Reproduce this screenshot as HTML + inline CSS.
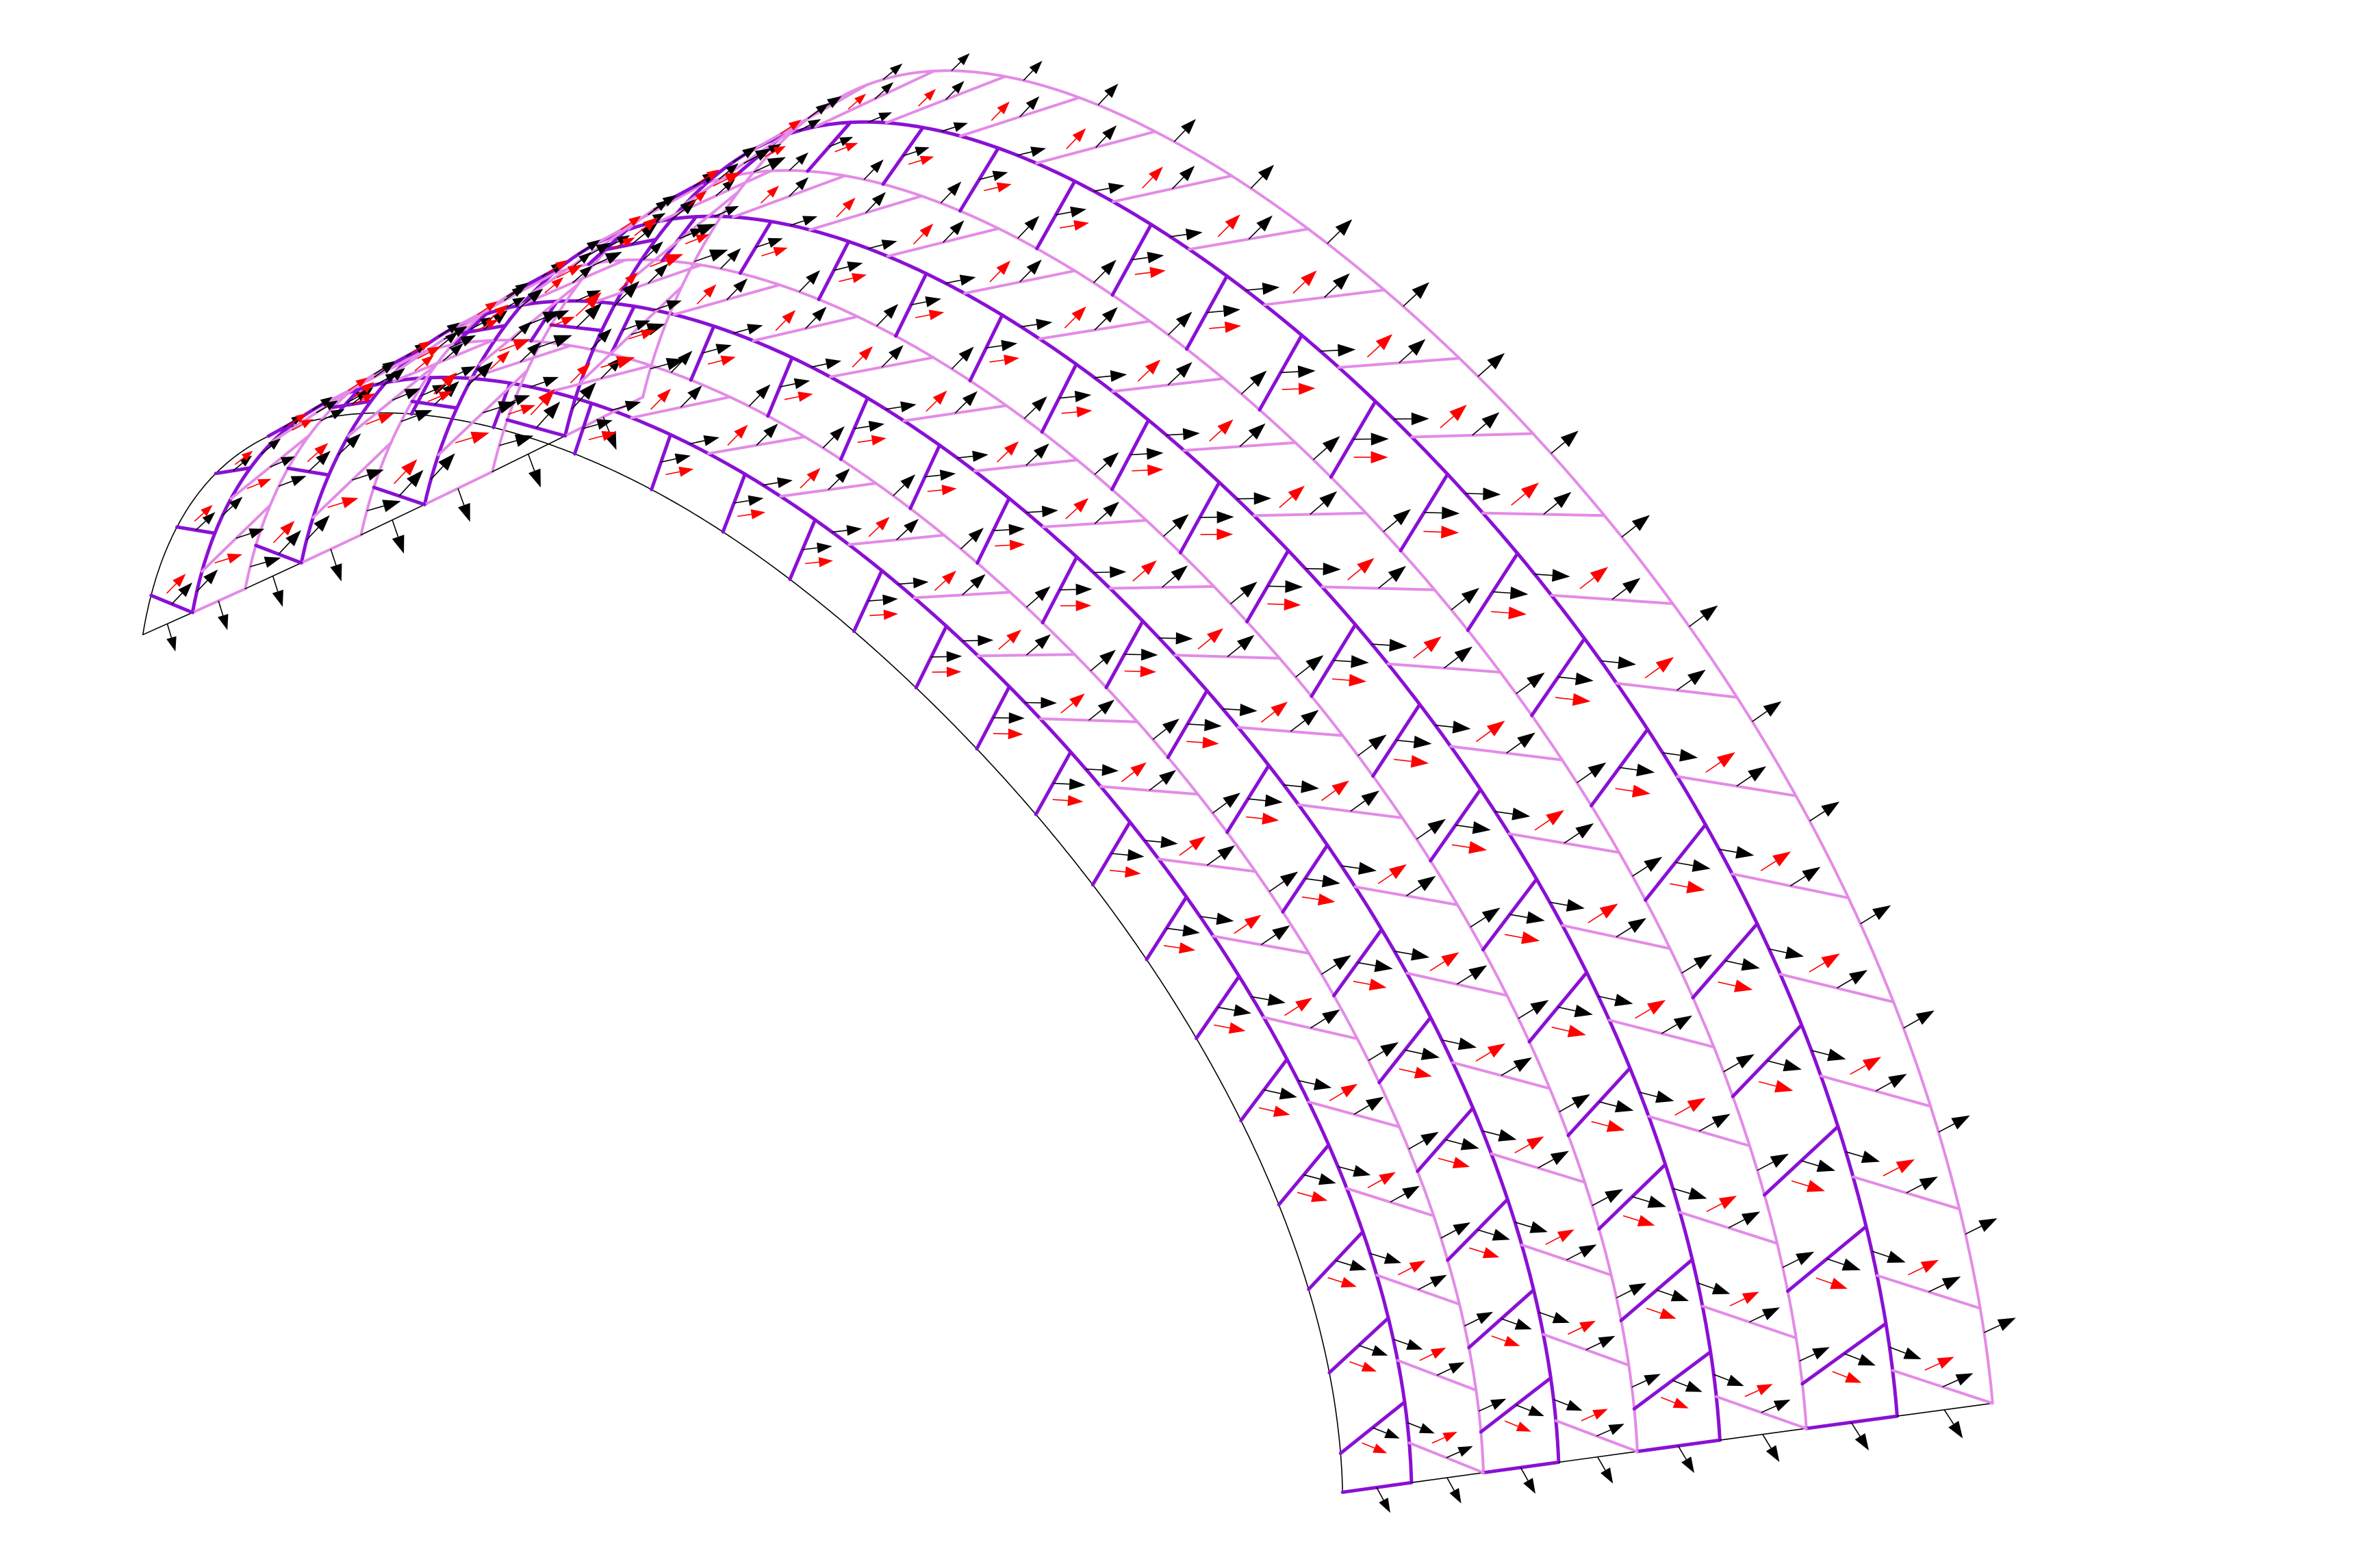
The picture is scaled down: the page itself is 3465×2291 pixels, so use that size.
<!DOCTYPE html>
<html><head><meta charset="utf-8"><title>Masonry vault</title>
<style>html,body{margin:0;padding:0;background:#fff}svg{display:block}</style></head>
<body>
<svg id="chart" xmlns="http://www.w3.org/2000/svg" width="3465" height="2291" viewBox="0 0 3465 2291">
<rect x="0" y="0" width="3465" height="2291" fill="#fff"/>
<g id="lines"></g>
<g id="arrows"></g>
</svg>
<script>
// ---- data ----
const courseCount = 8;
const bricksPerCourse = 23;
const boundaryKinds = ['edge','major','minor','major','minor','major','minor','major','minor'];
const redArrowTangentMix = [1, -0.3, 1, -0.3, 1, -0.3, 1, -0.3];
const redArrowWidthMix = [1.8, 1, 1.8, 1, 1.8, 1, 1.8, 1];
// camera calibration: near-edge rung marks (index from left), outer-edge joints (from right), end ticks
const nearEdgeRungImgX = [243,260,292,340,463,596,751,884,975,1063,1154,1241,1328,1416,1504,1589,1665,1742,1810,1872,1918,1948,1963];
const nearEdgeRungImgY = [868,769,689,629,585,585,618,686,736,794,860,931,1011,1096,1189,1287,1395,1511,1627,1756,1886,2011,2127];
const outerEdgeJointImgX = [2885,2864,2825,2773,2706,2625,2537,2441,2339,2233,2127,2019,1909,1799,1690,1584,1474,1371,1272];
const outerEdgeJointImgY = [1923,1773,1620,1462,1305,1154,1012,874,749,630,524,427,342,267,204,153,115,92,86];
const leftEndImgX = [241,325,409,493,577,661,745,829,913];
const leftEndImgY = [926,887,848,808,769,730,691,651,612];
const rightEndImgX = [1965,2081,2198,2314,2432,2548,2665,2781,2898];
const rightEndImgY = [2178,2160,2145,2129,2114,2099,2084,2069,2054];

const COLORS = {major:'#8a10d4', minor:'#e38be6', edge:'#000'};
const WIDTHS = {major:5, minor:4, edge:1.6};
const NS='http://www.w3.org/2000/svg';

// ---- calibration set in (u, y) surface coordinates ----
const calib=[];
for(let j=0;j<nearEdgeRungImgX.length;j++) calib.push([bricksPerCourse+0.5-(j+1),0,nearEdgeRungImgX[j],nearEdgeRungImgY[j],j<8?2:1]);
for(let j=0;j<outerEdgeJointImgX.length;j++) calib.push([j+1,1,outerEdgeJointImgX[j],outerEdgeJointImgY[j],j>=13?3:2]);
for(let k=0;k<=courseCount;k++){
  calib.push([bricksPerCourse,k/courseCount,leftEndImgX[k],leftEndImgY[k],3.5]);
  calib.push([0,k/courseCount,rightEndImgX[k],rightEndImgY[k],3]);
}
function world(u,y){const th=u*Math.PI/bricksPerCourse;return [Math.cos(th),y,Math.sin(th)];}

// ---- camera (weighted DLT) ----
function solveCamera(){
  const n=11, M=[];
  for(let i=0;i<n;i++){M.push(new Array(n+1).fill(0));}
  function addRow(r,b,wt){for(let i=0;i<n;i++){for(let j=0;j<n;j++)M[i][j]+=wt*r[i]*r[j];M[i][n]+=wt*r[i]*b;}}
  for(const [cu,cy,u0,v0,wt] of calib){
    const [X,Y,Z]=world(cu,cy);
    const u=u0/1000,v=v0/1000;
    addRow([X,Y,Z,1,0,0,0,0,-u*X,-u*Y,-u*Z],u,wt);
    addRow([0,0,0,0,X,Y,Z,1,-v*X,-v*Y,-v*Z],v,wt);
  }
  for(let c=0;c<n;c++){
    let p=c;for(let r=c+1;r<n;r++)if(Math.abs(M[r][c])>Math.abs(M[p][c]))p=r;
    [M[c],M[p]]=[M[p],M[c]];
    for(let r=0;r<n;r++){if(r===c)continue;const f=M[r][c]/M[c][c];for(let k=c;k<=n;k++)M[r][k]-=f*M[c][k];}
  }
  return M.map((row,i)=>row[n]/row[i]);
}
const P=solveCamera();
function proj(X,Y,Z){
  const w=P[8]*X+P[9]*Y+P[10]*Z+1;
  return [1000*(P[0]*X+P[1]*Y+P[2]*Z+P[3])/w, 1000*(P[4]*X+P[5]*Y+P[6]*Z+P[7])/w];
}
function basePt(u,y){const w=world(u,y);return proj(w[0],w[1],w[2]);}
// residual correction: smooth along each edge, blended linearly across the width
const residNear=[],residOuter=[];
for(const [cu,cy,x,yy] of calib){
  const p=basePt(cu,cy);
  if(cy===0) residNear.push([cu,x-p[0],yy-p[1]]);
  if(cy===1) residOuter.push([cu,x-p[0],yy-p[1]]);
}
function edgeCorr(list,u){
  let sx=0,sy=0,sw=0;
  for(const [cu,dx,dy] of list){const d=(u-cu)/3;const w=Math.exp(-d*d)+1e-12;sx+=w*dx;sy+=w*dy;sw+=w;}
  return [sx/sw,sy/sw];
}
function pt(u,y){
  const p=basePt(u,y),a=edgeCorr(residNear,u),b=edgeCorr(residOuter,u);
  return [p[0]+(1-y)*a[0]+y*b[0],p[1]+(1-y)*a[1]+y*b[1]];
}
function imgDir(u,y,d){
  const w=world(u,y),e=1e-3;
  const a=proj(w[0],w[1],w[2]),b=proj(w[0]+e*d[0],w[1]+e*d[1],w[2]+e*d[2]);
  const dx=b[0]-a[0],dy=b[1]-a[1],l=Math.hypot(dx,dy)||1;return [dx/l,dy/l];
}
function tangentDown(u){const th=u*Math.PI/bricksPerCourse;return [Math.sin(th),0,-Math.cos(th)];}

const gL=document.getElementById('lines'), gA=document.getElementById('arrows');
function line(a,b,kind,name){
  const l=document.createElementNS(NS,'line');
  l.setAttribute('x1',a[0].toFixed(1));l.setAttribute('y1',a[1].toFixed(1));
  l.setAttribute('x2',b[0].toFixed(1));l.setAttribute('y2',b[1].toFixed(1));
  l.setAttribute('stroke',COLORS[kind]);l.setAttribute('stroke-width',WIDTHS[kind]);
  l.setAttribute('stroke-linecap','round');
  
  
  gL.appendChild(l);
}
// long boundary curves
for(let c=0;c<=courseCount;c++){
  const y=c/courseCount; let d='';
  for(let s=0;s<=bricksPerCourse*20;s++){const p=pt(s/20,y);d+=(s?'L':'M')+p[0].toFixed(1)+' '+p[1].toFixed(1);}
  const path=document.createElementNS(NS,'path');
  path.setAttribute('d',d);path.setAttribute('fill','none');
  path.setAttribute('stroke',COLORS[boundaryKinds[c]]);path.setAttribute('stroke-width',WIDTHS[boundaryKinds[c]]);
  
  
  gL.appendChild(path);
}
// end segments
for(let c=0;c<courseCount;c++){
  const y0=c/courseCount,y1=(c+1)/courseCount;
  line(pt(0,y0),pt(0,y1), c%2===0?'major':'edge','right-end-segment');
  line(pt(bricksPerCourse,y0),pt(bricksPerCourse,y1), c%2===0?'edge':'minor','left-end-segment');
}
// rungs
const rungs=[];
for(let c=0;c<courseCount;c++){
  const y0=c/courseCount,y1=(c+1)/courseCount,kind=c%2===0?'major':'minor';
  if(c%2===0){for(let k=1;k<=bricksPerCourse;k++){rungs.push([c,k-0.5,k]);line(pt(k-0.5,y0),pt(k,y1),kind,'brick-joint');}}
  else{for(let k=0;k<bricksPerCourse;k++){rungs.push([c,k+0.5,k]);line(pt(k+0.5,y0),pt(k,y1),kind,'brick-joint');}}
}
// arrows
function arrow(p,dir,len,color,name){
  const L=Math.max(12,Math.min(52,len));
  const tip=[p[0]+dir[0]*L,p[1]+dir[1]*L];
  const hl=0.5*L,hw=0.18*L;
  const base=[tip[0]-dir[0]*hl,tip[1]-dir[1]*hl];
  const nx=-dir[1],ny=dir[0];
  const g=document.createElementNS(NS,'g');
  
  
  const s=document.createElementNS(NS,'line');
  s.setAttribute('x1',p[0].toFixed(1));s.setAttribute('y1',p[1].toFixed(1));
  s.setAttribute('x2',base[0].toFixed(1));s.setAttribute('y2',base[1].toFixed(1));
  s.setAttribute('stroke',color);s.setAttribute('stroke-width',1.6);
  g.appendChild(s);
  const h=document.createElementNS(NS,'polygon');
  h.setAttribute('points',[tip,[base[0]+nx*hw,base[1]+ny*hw],[base[0]-nx*hw,base[1]-ny*hw]].map(q=>q[0].toFixed(1)+','+q[1].toFixed(1)).join(' '));
  h.setAttribute('fill',color);
  g.appendChild(h);
  gA.appendChild(g);
}
function courseDir(c,u,y){
  const t=imgDir(u,y,tangentDown(u)), w=imgDir(u,y,[0,1,0]);
  const a=redArrowTangentMix[c], b=redArrowWidthMix[c];
  const dx=a*t[0]+b*w[0], dy=a*t[1]+b*w[1], l=Math.hypot(dx,dy)||1;
  return [dx/l,dy/l];
}
function brickLen(u,y){const a=pt(u-0.5,y),b=pt(u+0.5,y);return Math.hypot(a[0]-b[0],a[1]-b[1]);}
// rung arrows
for(const [c,ua,ub] of rungs){
  const ym=(c+0.5)/courseCount,um=(ua+ub)/2;
  const a=pt(ua,c/courseCount),b=pt(ub,(c+1)/courseCount);
  arrow([(a[0]+b[0])/2,(a[1]+b[1])/2],courseDir(c,um,ym),0.36*brickLen(um,ym),'#000','joint-force-arrow');
}
// interface arrows on curves 1..8
for(let c=1;c<=courseCount;c++){
  const y=c/courseCount;
  for(let k=1;k<=bricksPerCourse;k++){
    const u=k-0.25;
    arrow(pt(u,y),courseDir(c-1,u,y),0.36*brickLen(u,y),'#000','interface-force-arrow');
  }
}
// end arrows
for(let c=0;c<courseCount;c++){
  const y=(c+0.5)/courseCount;
  for(const u of [0,bricksPerCourse]){
    const d1=imgDir(u,y,[0,0,-1]),d2=imgDir(u,y,[0,1,0]);
    const dx=d1[0]+0.5*d2[0],dy=d1[1]+0.5*d2[1],l=Math.hypot(dx,dy);
    arrow(pt(u,y),[dx/l,dy/l],0.36*brickLen(u===0?0.5:u-0.5,y),'#000','support-force-arrow');
  }
}
// red arrows at brick centres
for(let c=0;c<courseCount;c++){
  const y=(c+0.5)/courseCount;
  for(let k=0;k<bricksPerCourse;k++){
    const u=k+0.5;
    const p=pt(u,y),d=courseDir(c,u,y),L=0.34*brickLen(u,y);
    arrow([p[0]-d[0]*L*0.5,p[1]-d[1]*L*0.5],d,L,'#f00','brick-weight-arrow');
  }
}
</script>
</body></html>
